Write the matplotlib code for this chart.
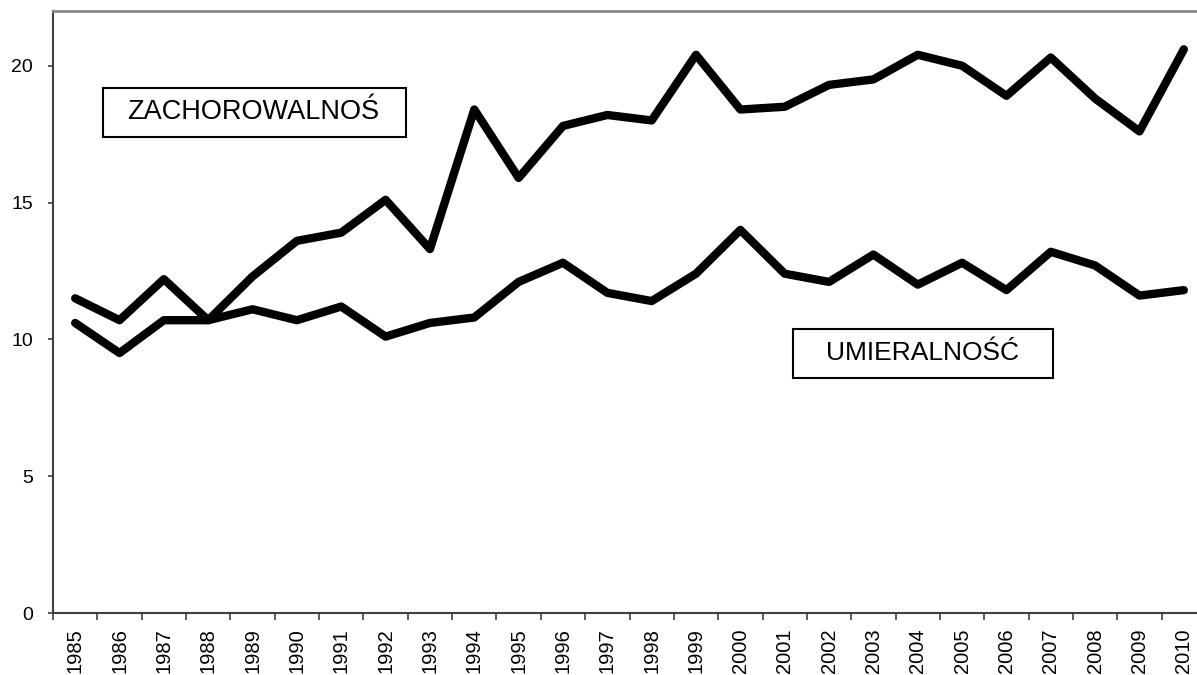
import numpy as np
import matplotlib
matplotlib.use("Agg")
import matplotlib.pyplot as plt
from matplotlib.patches import Rectangle

# data
years = list(range(1985, 2011))
zachorowalnosc = [11.5, 10.7, 12.2, 10.7, 12.3, 13.6, 13.9, 15.1, 13.3, 18.4,
                  15.9, 17.8, 18.2, 18.0, 20.4, 18.4, 18.5, 19.3, 19.5, 20.4,
                  20.0, 18.9, 20.3, 18.8, 17.6, 20.6]
umieralnosc = [10.6, 9.5, 10.7, 10.7, 11.1, 10.7, 11.2, 10.1, 10.6, 10.8,
               12.1, 12.8, 11.7, 11.4, 12.4, 14.0, 12.4, 12.1, 13.1, 12.0,
               12.8, 11.8, 13.2, 12.7, 11.6, 11.8]
y_ticks = [0, 5, 10, 15, 20]

plt.rcParams['font.family'] = ['Liberation Sans', 'DejaVu Sans']

fig = plt.figure(figsize=(11.97, 6.75), dpi=100)
# axes runs slightly past the right edge of the figure, as in the reference
ax = fig.add_axes([53 / 1197, 62 / 675, 1153 / 1197, 602 / 675])

x = np.arange(len(years))
for series in (zachorowalnosc, umieralnosc):
    ax.plot(x, series, color='black', lw=6,
            solid_capstyle='round', solid_joinstyle='round')

ax.set_xlim(-0.5, len(years) - 0.5)
ax.set_ylim(0, 22)

# year labels at category centres, tick marks between categories
ax.set_xticks(x)
ax.set_xticklabels([str(y) for y in years], rotation=90, fontsize=14.5)
ax.set_xticks(np.arange(len(years) + 1) - 0.5, minor=True)
ax.tick_params(axis='x', which='major', length=0, pad=11)
ax.tick_params(axis='x', which='minor', length=5, width=1.2, color='#404040',
               direction='out')

ax.set_yticks(y_ticks)
ax.set_yticklabels([str(v) for v in y_ticks], fontsize=14)
ax.tick_params(axis='y', length=3.6, width=1.2, color='#404040', pad=10.8)

ax.spines['left'].set_color('#404040')
ax.spines['left'].set_linewidth(1.5)
ax.spines['bottom'].set_color('#404040')
ax.spines['bottom'].set_linewidth(1.5)
ax.spines['top'].set_color('#888888')
ax.spines['top'].set_linewidth(2)
ax.spines['right'].set_color('#888888')
ax.spines['right'].set_linewidth(2)

# boxed series labels
ax.add_patch(Rectangle((0.0434, 0.7907), 0.2628, 0.0814, transform=ax.transAxes,
                       fill=False, edgecolor='black', lw=1.5, zorder=3))
ax.text(0.1735, 0.8322, 'ZACHOROWALNOŚ', transform=ax.transAxes,
        ha='center', va='center', fontsize=19.5, zorder=4)

ax.add_patch(Rectangle((0.6418, 0.3904), 0.2255, 0.0814, transform=ax.transAxes,
                       fill=False, edgecolor='black', lw=1.5, zorder=3))
ax.text(0.7545, 0.4311, 'UMIERALNOŚĆ', transform=ax.transAxes,
        ha='center', va='center', fontsize=19, zorder=4)

fig.savefig('out.png', dpi=100)
